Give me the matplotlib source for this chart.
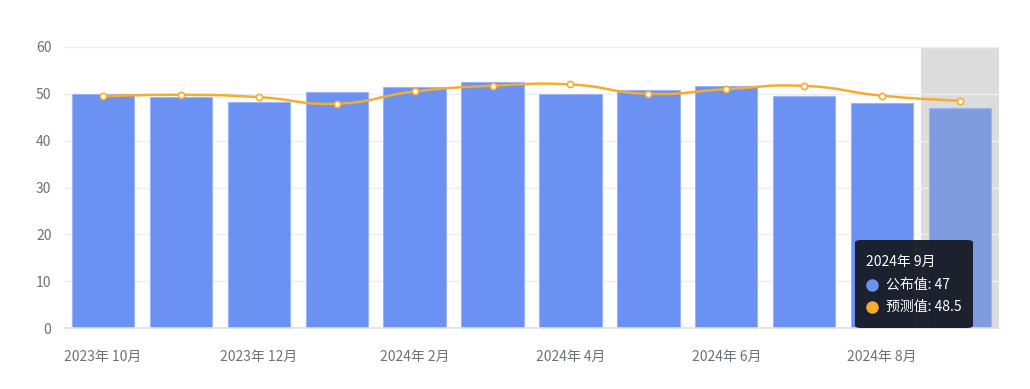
import matplotlib
matplotlib.use("Agg")
import matplotlib.pyplot as plt
from matplotlib.patches import FancyBboxPatch, Rectangle
import numpy as np

plt.rcParams['font.family'] = ['Noto Sans CJK SC', 'DejaVu Sans']

months = ["2023年 10月", "2023年 11月", "2023年 12月", "2024年 1月", "2024年 2月", "2024年 3月",
          "2024年 4月", "2024年 5月", "2024年 6月", "2024年 7月", "2024年 8月", "2024年 9月"]
published = [50.0, 49.4, 48.2, 50.3, 51.4, 52.5, 49.9, 50.8, 51.6, 49.5, 48.0, 47.0]
forecast = [49.5, 49.8, 49.3, 47.9, 50.5, 51.7, 52.0, 50.0, 51.0, 51.7, 49.6, 48.5]
yticks = [0, 10, 20, 30, 40, 50, 60]

W, H = 1030, 389
fig = plt.figure(figsize=(W / 100, H / 100), dpi=100)
x0, x1, y0, y1 = 64, 999, 47, 328
ax = fig.add_axes([x0 / W, 1 - y1 / H, (x1 - x0) / W, (y1 - y0) / H])

n = len(months)
x = np.arange(n)
ax.set_xlim(-0.5, n - 0.5)
ax.set_ylim(0, 60)

# highlight band for hovered category
hi = n - 1
ax.add_patch(Rectangle((hi - 0.5, 0), 1, 60, facecolor='#dcdcdc', edgecolor='none', zorder=0.5))

colors = ['#6b91f3'] * n
colors[hi] = '#7f9cde'
ax.bar(x, published, width=0.8, color=colors, edgecolor='#9db5f7', linewidth=0.8, zorder=2)

# smooth line (bezier smoothing like echarts smooth)
def smooth(xs, ys, t=0.3, steps=30):
    xs = np.asarray(xs, float); ys = np.asarray(ys, float)
    px, py = [], []
    for i in range(len(xs) - 1):
        p0 = (xs[i], ys[i]); p3 = (xs[i + 1], ys[i + 1])
        prev = (xs[i - 1], ys[i - 1]) if i > 0 else p0
        nxt = (xs[i + 2], ys[i + 2]) if i + 2 < len(xs) else p3
        c1 = (p0[0] + t * (p3[0] - prev[0]), p0[1] + t * (p3[1] - prev[1]))
        c2 = (p3[0] - t * (nxt[0] - p0[0]), p3[1] - t * (nxt[1] - p0[1]))
        s = np.linspace(0, 1, steps)
        bx = (1 - s) ** 3 * p0[0] + 3 * (1 - s) ** 2 * s * c1[0] + 3 * (1 - s) * s ** 2 * c2[0] + s ** 3 * p3[0]
        by = (1 - s) ** 3 * p0[1] + 3 * (1 - s) ** 2 * s * c1[1] + 3 * (1 - s) * s ** 2 * c2[1] + s ** 3 * p3[1]
        px.extend(bx); py.extend(by)
    return px, py

sx, sy = smooth(x, forecast, t=0.25)
ax.plot(sx, sy, color='#f5ad2f', linewidth=1.8, zorder=3, solid_capstyle='round')
ax.plot(x, forecast, linestyle='none', marker='o', markersize=4.5, markerfacecolor='white',
        markeredgecolor='#f5ad2f', markeredgewidth=1.2, zorder=4)

# grid and axes
ax.set_yticks(yticks)
ax.yaxis.grid(True, color='#eeeeee', linewidth=1)
ax.set_axisbelow(True)
for s in ['top', 'right', 'left']:
    ax.spines[s].set_visible(False)
ax.spines['bottom'].set_color('#e0e0e0')
ax.spines['bottom'].set_linewidth(1.2)
ax.tick_params(axis='y', length=0, pad=9, labelsize=10, labelcolor='#6e7079')
ax.set_xticks(x[::2])
ax.set_xticklabels(months[::2])
ax.tick_params(axis='x', length=0, pad=16, labelsize=10, labelcolor='#6e7079')

# tooltip
tx0, ty0, tw, th = 855, 240, 118, 88
tip = FancyBboxPatch(((tx0) / W, 1 - (ty0 + th) / H), tw / W, th / H,
                     boxstyle="round,pad=0,rounding_size=0.006", transform=fig.transFigure,
                     facecolor='#1a1f2b', edgecolor='none', alpha=0.98, zorder=10)
fig.patches.append(tip)
fig.text((tx0 + 11) / W, 1 - 262 / H, "2024年 9月", color='white', fontsize=10, va='center', ha='left', zorder=11)
fig.text((tx0 + 31) / W, 1 - 285 / H, f"公布值: {published[hi]:g}", color='white', fontsize=10, va='center', ha='left', zorder=11)
fig.text((tx0 + 31) / W, 1 - 307 / H, f"预测值: {forecast[hi]:g}", color='white', fontsize=10, va='center', ha='left', zorder=11)
fig.add_artist(plt.Line2D([(tx0 + 17) / W], [1 - 285 / H], marker='o', markersize=8, color='#6b91f3',
                          transform=fig.transFigure, zorder=11))
fig.add_artist(plt.Line2D([(tx0 + 17) / W], [1 - 307 / H], marker='o', markersize=8, color='#f5ad2f',
                          transform=fig.transFigure, zorder=11))

fig.savefig("out.png", dpi=100)
